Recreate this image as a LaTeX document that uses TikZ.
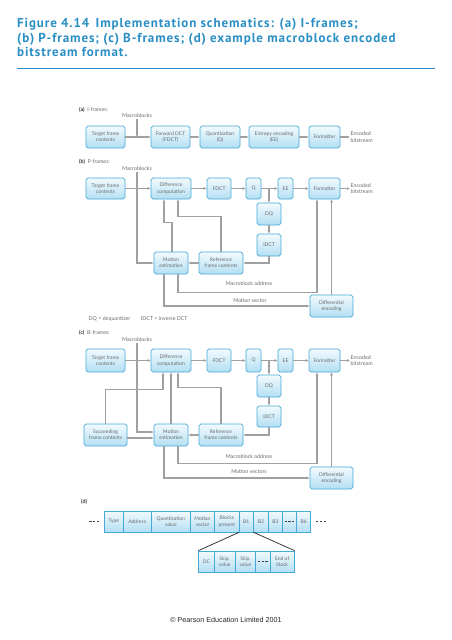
\documentclass[tikz,border=0pt]{standalone}
\usepackage{fontspec}
\setmainfont{Lato}
\newfontfamily\titlefont[LetterSpace=7]{PT Sans}
\newfontfamily\footfont{Liberation Sans}
\usetikzlibrary{arrows.meta}
\definecolor{titleblue}{HTML}{2A8FC4}
\definecolor{boxdraw}{HTML}{45AAD6}
\definecolor{boxtop}{HTML}{F2FAFE}
\definecolor{boxbot}{HTML}{B3DFF3}
\definecolor{txt}{HTML}{6A6A6A}
\definecolor{arrgray}{HTML}{A0A0A0}
\newcommand\bxfont{\fontsize{5}{6.3}\selectfont}
\newcommand\lblfont{\fontsize{5.3}{6.5}\selectfont}
\begin{document}
\begin{tikzpicture}[x=1pt,y=-1pt,
  box/.style={draw=boxdraw, line width=0.7pt, rounded corners=1.8pt, top color=boxtop, bottom color=boxbot,
    text=txt, font=\bxfont, align=center, inner sep=0pt},
  cell/.style={draw=boxdraw, line width=0.7pt, top color=boxtop, bottom color=boxbot,
    text=txt, font=\bxfont, align=center, inner sep=0pt, minimum height=21pt},
  lbl/.style={text=txt, font=\lblfont, inner sep=0.5pt, align=center},
  sect/.style={text=txt, font=\lblfont, inner sep=0pt, anchor=west},
  arr/.style={draw=arrgray, line width=1.2pt, -{Latex[length=3pt,width=3pt]}},
  dashmark/.style={draw=black!75, line width=0.9pt, dash pattern=on 2.2pt off 1.6pt},
  ttl/.style={anchor=base west, inner sep=0, text=titleblue, font=\titlefont\bfseries\fontsize{13}{14}\selectfont}
]
\fill[white] (0,0) rectangle (452,640);
\useasboundingbox (0,0) rectangle (452,640);

% ---------- title ----------
\node[ttl] (t1) at (17,27.7) {Figure 4.14\enspace Implementation schematics: (a) I-frames;};
\node[ttl] (t2) at (17,42) {(b) P-frames; (c) B-frames; (d) example macroblock encoded};
\node[ttl] (t3) at (17,56.3) {bitstream format.};
\draw[titleblue, line width=1pt] (17,68) -- (435,68);

% ---------- (a) ----------
\node[sect] (la) at (79,110) {\textbf{\color{black!80}(a)}\ \ I-frames:};
\node[lbl] (mba) at (137,116) {Macroblocks};
\node[box, minimum width=39pt, minimum height=22pt] (ta) at (105.5,137) {Target frame\\contents};
\node[box, minimum width=39pt, minimum height=22pt] (fa) at (170.5,137) {Forward DCT\\(FDCT)};
\node[box, minimum width=40pt, minimum height=22pt] (qa) at (220,137) {Quantization\\(Q)};
\node[box, minimum width=50pt, minimum height=22pt] (ea) at (274,137) {Entropy encoding\\(EE)};
\node[box, minimum width=31pt, minimum height=22pt] (fma) at (324.5,137) {Formatter};
\node[lbl, anchor=west, align=left] (enca) at (350,137) {Encoded\\bitstream};
\draw[arr] (ta) -- (fa);
\draw[arr] (fa) -- (qa);
\draw[arr] (qa) -- (ea);
\draw[arr] (ea) -- (fma);
\draw[arr] (fma) -- (enca);
\draw[arr] (mba.south) -- (mba.south |- ta.east);

% ---------- (b) ----------
\node[sect] (lb) at (79,161.5) {\textbf{\color{black!80}(b)}\ \ P-frames:};
\node[lbl] (mbb) at (137,169) {Macroblocks};
\node[box, minimum width=39pt, minimum height=21pt] (tb) at (105.5,188.5) {Target frame\\contents};
\node[box, minimum width=40pt, minimum height=21pt] (db) at (171,188.5) {Difference\\computation};
\node[box, minimum width=24pt, minimum height=21pt] (fdb) at (219,188.5) {FDCT};
\node[box, minimum width=15pt, minimum height=21pt] (qb) at (253.5,188.5) {Q};
\node[box, minimum width=15pt, minimum height=21pt] (eb) at (285.5,188.5) {EE};
\node[box, minimum width=31pt, minimum height=21pt] (fmb) at (324.5,188.5) {Formatter};
\node[lbl, anchor=west, align=left] (encb) at (350,188.5) {Encoded\\bitstream};
\node[box, minimum width=24pt, minimum height=22pt] (dqb) at (269,214) {DQ};
\node[box, minimum width=24pt, minimum height=22pt] (idb) at (269,245) {IDCT};
\node[box, minimum width=34pt, minimum height=22pt] (meb) at (171,263) {Motion\\estimation};
\node[box, minimum width=44pt, minimum height=22pt] (rfb) at (221,263) {Reference\\frame contents};
\node[box, minimum width=43pt, minimum height=22pt] (deb) at (331.5,306) {Differential\\encoding};
\node[lbl] (mab) at (249,284) {Macroblock address};
\node[lbl] (mvb) at (250,300.5) {Motion vector};
\node[lbl, anchor=west] (legb) at (88,319) {DQ = dequantizer\qquad IDCT = inverse DCT};
\draw[arr] (tb) -- (db);
\draw[arr] (db) -- (fdb);
\draw[arr] (fdb) -- (qb);
\draw[arr] (qb) -- (eb);
\draw[arr] (eb) -- (fmb);
\draw[arr] (fmb) -- (encb);
\draw[arr] (qb.east -| dqb.north) -- (dqb.north);
\draw[arr] (dqb) -- (idb);
\draw[arr] (idb.south) |- (rfb.east);
\draw[arr] (rfb.west) -- (meb.east);
\draw[arr] (mbb.south) |- (meb.west);
\draw[arr] ([xshift=1pt]meb.north) -- ++(0,-29) -| ([xshift=-7pt]db.south);
\draw[arr] (rfb.north) -- ++(0,-35) -| ([xshift=7pt]db.south);
\draw[arr] ([xshift=7pt]meb.south) -- ++(0,18) -| ([xshift=-7.5pt]fmb.south);
\draw[arr] ([xshift=-7pt]meb.south) |- (deb.west);
\draw[arr] (deb.north) -- (deb.north |- fmb.south);

% ---------- (c) ----------
\node[sect] (lc) at (79,333) {\textbf{\color{black!80}(c)}\ \ B-frames:};
\node[lbl] (mbc) at (137,340) {Macroblocks};
\node[box, minimum width=39pt, minimum height=23pt] (tc) at (105.5,360.5) {Target frame\\contents};
\node[box, minimum width=40pt, minimum height=23pt] (dc) at (171,360.5) {Difference\\computation};
\node[box, minimum width=24pt, minimum height=23pt] (fdc) at (219,360.5) {FDCT};
\node[box, minimum width=15pt, minimum height=23pt] (qc) at (253.5,360.5) {Q};
\node[box, minimum width=15pt, minimum height=23pt] (ec) at (285.5,360.5) {EE};
\node[box, minimum width=31pt, minimum height=23pt] (fmc) at (324.5,360.5) {Formatter};
\node[lbl, anchor=west, align=left] (encc) at (350,360.5) {Encoded\\bitstream};
\node[box, minimum width=24pt, minimum height=22pt] (dqc) at (269,386) {DQ};
\node[box, minimum width=24pt, minimum height=21pt] (idc) at (269,416.5) {IDCT};
\node[box, minimum width=43pt, minimum height=22pt] (sc) at (105.5,435) {Succeeding\\frame contents};
\node[box, minimum width=34pt, minimum height=22pt] (mec) at (171,435) {Motion\\estimation};
\node[box, minimum width=44pt, minimum height=22pt] (rfc) at (221,435) {Reference\\frame contents};
\node[box, minimum width=43pt, minimum height=22pt] (dec) at (331.5,478) {Differential\\encoding};
\node[lbl] (mac) at (249,457) {Macroblock address};
\node[lbl] (mvc) at (249,472) {Motion vectors};
\draw[arr] (tc) -- (dc);
\draw[arr] (dc) -- (fdc);
\draw[arr] (fdc) -- (qc);
\draw[arr] (qc) -- (ec);
\draw[arr] (ec) -- (fmc);
\draw[arr] (fmc) -- (encc);
\draw[arr] (qc.east -| dqc.north) -- (dqc.north);
\draw[arr] (dqc) -- (idc);
\draw[arr] (idc.south) |- (rfc.east);
\draw[arr] (rfc.west) -- (mec.east);
\draw[arr] (mbc.south) |- ([yshift=3pt]mec.west);
\draw[arr] ([yshift=-3pt]sc.east) -- ([yshift=-3pt]mec.west);
\draw[arr] (mec.north) -- (dc.south);
\draw[arr] (sc.north) -- ++(0,-34) -| ([xshift=-8pt]dc.south);
\draw[arr] (rfc.north) -- ++(0,-36) -| ([xshift=7pt]dc.south);
\draw[arr] ([xshift=7pt]mec.south) -- ++(0,17) -| ([xshift=-7.5pt]fmc.south);
\draw[arr] ([xshift=-7pt]mec.south) |- (dec.west);
\draw[arr] (dec.north) -- (dec.north |- fmc.south);

% ---------- (d) ----------
\node[sect] (ld) at (81,502) {\textbf{\color{black!80}(d)}};
\node[cell, minimum width=19pt] (ty) at (113.8,521.5) {Type};
\node[cell, minimum width=27.7pt] (ad) at (137.15,521.5) {Address};
\node[cell, minimum width=39.7pt] (qv) at (170.85,521.5) {Quantization\\value};
\node[cell, minimum width=23.6pt] (mv) at (202.5,521.5) {Motion\\vector};
\node[cell, minimum width=25pt] (bp) at (226.8,521.5) {Blocks\\present};
\node[cell, minimum width=14pt] (b1) at (246.3,521.5) {B1};
\node[cell, minimum width=15.4pt] (b2) at (261,521.5) {B2};
\node[cell, minimum width=13.6pt] (b3) at (275.5,521.5) {B3};
\node[cell, minimum width=14.4pt] (bd) at (289.5,521.5) {};
\node[cell, minimum width=14pt] (b6) at (303.7,521.5) {B6};
\draw[dashmark] ([xshift=-5pt]bd.center) -- ([xshift=5.5pt]bd.center);
\draw[dashmark] ([xshift=-14.5pt]ty.west) -- ([xshift=-4pt]ty.west);
\draw[dashmark] ([xshift=5pt]b6.east) -- ([xshift=15.5pt]b6.east);

\node[cell, minimum width=15.3pt] (s1) at (206.35,561.5) {DC};
\node[cell, minimum width=21.3pt] (s2) at (224.65,561.5) {Skip,\\value};
\node[cell, minimum width=20.4pt] (s3) at (245.5,561.5) {Skip,\\value};
\node[cell, minimum width=14.3pt] (s4) at (262.85,561.5) {};
\node[cell, minimum width=24.3pt] (s5) at (282.15,561.5) {End of\\block};
\draw[dashmark] ([xshift=-5pt]s4.center) -- ([xshift=5.5pt]s4.center);
\draw[black!85, line width=0.7pt] (b1.south west) -- (s1.north west);
\draw[black!85, line width=0.7pt] (b1.south east) -- (s5.north east);

% ---------- footer ----------
\node[inner sep=0, font=\footfont\fontsize{7.2}{8}\selectfont, text=black!85] (foot) at (226,620) {\textcopyright\ Pearson Education Limited 2001};
\end{tikzpicture}
\end{document}
